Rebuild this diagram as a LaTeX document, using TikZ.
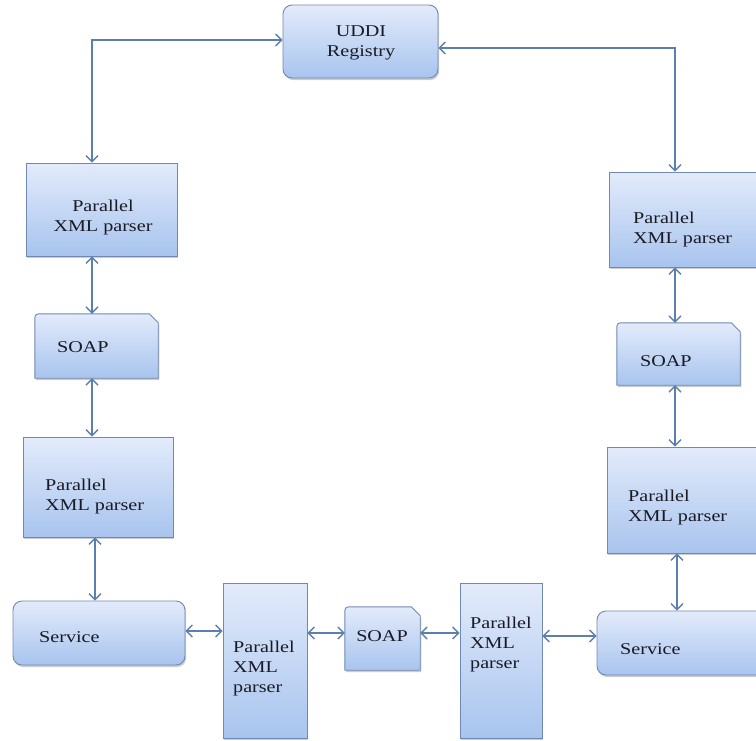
\documentclass[tikz,border=0pt]{standalone}
\usepackage{fontspec}
\usepackage{graphicx}
\setmainfont{Liberation Serif}
\usetikzlibrary{arrows.meta,shadows,calc,backgrounds}
\definecolor{edgeblue}{HTML}{7089B2}
\definecolor{arrowblue}{HTML}{5B80AD}
\definecolor{topfill}{HTML}{E3EBFB}
\definecolor{botfill}{HTML}{A8C4EE}
\definecolor{txt}{HTML}{1A1A24}
\newcommand{\wtxt}[2][l]{\scalebox{1.22}[1]{\begin{tabular}{@{}#1@{}}#2\end{tabular}}}
\begin{document}
\begin{tikzpicture}[x=1pt,y=-1pt,
  box/.style={draw=edgeblue, line width=0.9pt, top color=topfill, bottom color=botfill,
    drop shadow={shadow xshift=1.2pt, shadow yshift=-2pt, opacity=.4}},
  sqbox/.style={box, rectangle, inner sep=0pt},
  rbox/.style={box, rectangle, rounded corners=9pt, inner sep=0pt},
  holder/.style={rectangle, inner sep=0pt},
  lbl/.style={font=\rmfamily\fontsize{16.5}{20}\selectfont, inner sep=0pt, text=txt},
  arr/.style={draw=arrowblue, line width=1.3pt,
    {Straight Barb[length=6pt,width=12pt]}-{Straight Barb[length=6pt,width=12pt]}}]
\useasboundingbox (0,0) rectangle (756,740);

% boxes
\node[rbox, minimum width=155pt, minimum height=73pt] (uddi) at (360.5,41.5) {};
\node[sqbox, minimum width=151pt, minimum height=93pt] (lp1) at (101.5,209.5) {};
\node[holder, minimum width=123pt, minimum height=64pt] (lsoap) at (96.5,346) {};
\node[sqbox, minimum width=150pt, minimum height=100pt] (lp2) at (98,487) {};
\node[rbox, minimum width=172pt, minimum height=64pt] (lserv) at (99,633) {};
\node[sqbox, minimum width=84pt, minimum height=155pt] (bp1) at (265,660.5) {};
\node[holder, minimum width=75pt, minimum height=63pt] (bsoap) at (382.5,638.5) {};
\node[sqbox, minimum width=82pt, minimum height=155pt] (bp2) at (501,660.5) {};
\node[sqbox, minimum width=161pt, minimum height=95pt] (rp1) at (689.5,219.5) {};
\node[holder, minimum width=123pt, minimum height=62pt] (rsoap) at (678.5,354) {};
\node[sqbox, minimum width=163pt, minimum height=106pt] (rp2) at (688.5,500) {};
\node[rbox, minimum width=178pt, minimum height=64pt] (rserv) at (686,643) {};

% snipped SOAP shapes
\begin{scope}[on background layer]
\foreach \s in {lsoap,bsoap,rsoap}{
  \path[box] (\s.south west) -- ($(\s.north west)+(0,8)$)
    .. controls (\s.north west) .. ($(\s.north west)+(8,0)$)
    -- ($(\s.north east)+(-9,0)$) -- ($(\s.north east)+(0,9)$)
    -- (\s.south east) -- cycle;
}
\end{scope}

% labels
\node[lbl] (uddit) at (361,42) {\wtxt[c]{UDDI\\Registry}};
\node[lbl] (lp1t) at (103,217) {\wtxt[c]{Parallel\\XML parser}};
\node[lbl, anchor=west] (lsoapt) at (57,348) {\wtxt{SOAP}};
\node[lbl, anchor=west] (lp2t) at (45,496) {\wtxt{Parallel\\XML parser}};
\node[lbl, anchor=west] (lservt) at (39,638) {\wtxt{Service}};
\node[lbl, anchor=west] (bp1t) at (233,668) {\wtxt{Parallel\\XML\\parser}};
\node[lbl] (bsoapt) at (382,637) {\wtxt{SOAP}};
\node[lbl, anchor=west] (bp2t) at (470,644) {\wtxt{Parallel\\XML\\parser}};
\node[lbl, anchor=west] (rp1t) at (633,229) {\wtxt{Parallel\\XML parser}};
\node[lbl, anchor=west] (rsoapt) at (640,362) {\wtxt{SOAP}};
\node[lbl, anchor=west] (rp2t) at (628,507) {\wtxt{Parallel\\XML parser}};
\node[lbl, anchor=west] (rservt) at (620,650) {\wtxt{Service}};

% connector anchor points
\coordinate (c1) at ($(lp1.north)+(-9.5,0)$);
\coordinate (c2) at ($(uddi.west)+(0,-1.5)$);
\coordinate (c3) at ($(uddi.east)+(0,6.5)$);
\coordinate (c4) at ($(rp1.north)+(-14.5,0)$);
\coordinate (c5) at ($(lp1.south)+(-9.5,0)$);
\coordinate (c6) at ($(lsoap.south)+(-4.5,0)$);
\coordinate (c7) at ($(lp2.south)+(-3,0)$);
\coordinate (c8) at ($(lserv.east)+(0,-2)$);
\coordinate (c9) at ($(bsoap.west)+(0,-5.5)$);
\coordinate (c10) at ($(bsoap.east)+(0,-5.5)$);
\coordinate (c11) at ($(rserv.west)+(0,-7)$);
\coordinate (c12) at ($(rserv.north)+(-9,0)$);
\coordinate (c13) at ($(rsoap.south)+(-3.5,0)$);
\coordinate (c14) at ($(rsoap.north)+(-3.5,0)$);

% connectors
\draw[arr] (c1) |- (c2);
\draw[arr] (c3) -| (c4);
\draw[arr] (c5) -- (c5 |- lsoap.north);
\draw[arr] (c6) -- (c6 |- lp2.north);
\draw[arr] (c7) -- (c7 |- lserv.north);
\draw[arr] (c8) -- (c8 -| bp1.west);
\draw[arr] (c9 -| bp1.east) -- (c9);
\draw[arr] (c10) -- (c10 -| bp2.west);
\draw[arr] (c11 -| bp2.east) -- (c11);
\draw[arr] (c12) -- (c12 |- rp2.south);
\draw[arr] (c13) -- (c13 |- rp2.north);
\draw[arr] (c14) -- (c14 |- rp1.south);
\end{tikzpicture}
\end{document}
